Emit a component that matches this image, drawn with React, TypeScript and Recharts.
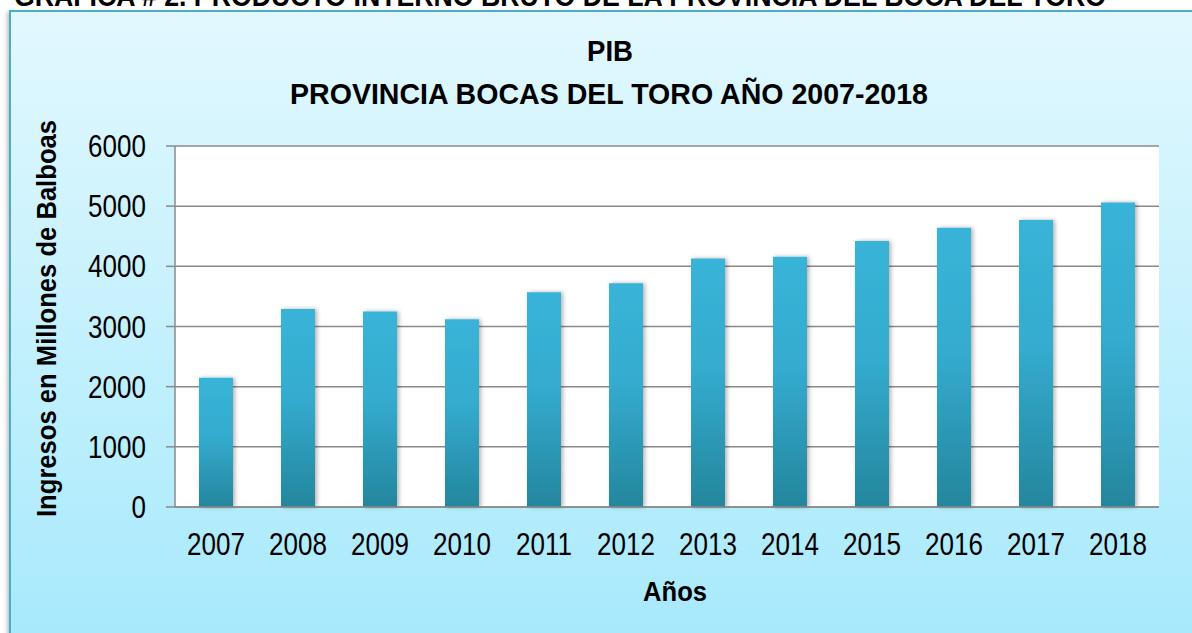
import { BarChart, Bar, XAxis, YAxis, CartesianGrid } from "recharts";

const years = ["2007", "2008", "2009", "2010", "2011", "2012", "2013", "2014", "2015", "2016", "2017", "2018"];
const pib = [2150, 3290, 3250, 3120, 3570, 3720, 4130, 4160, 4420, 4640, 4770, 5060];
const yTicks = [0, 1000, 2000, 3000, 4000, 5000, 6000];

const data = years.map((year, i) => ({ year, pib: pib[i] }));

const FONT = "'Liberation Sans Narrow', 'Arial Narrow', 'Liberation Sans', Arial, sans-serif";

// narrow-looking tick text (no Arial Narrow available, so squeeze it)
function NarrowTick({ x, y, payload, anchor, dy }: any) {
  return (
    <g transform={`translate(${x},${y})`}>
      <text transform="scale(0.84,1)" textAnchor={anchor} dy={dy} fontSize={31} fill="#000" fontFamily={FONT}>
        {payload.value}
      </text>
    </g>
  );
}

export default function App() {
  return (
    <div
      style={{
        position: "fixed",
        left: 0,
        top: 0,
        width: 1192,
        height: 633,
        overflow: "hidden",
        background: "#fff",
        fontFamily: FONT,
      }}
    >
      {/* caption cut off at the top of the page */}
      <svg width={1192} height={20} style={{ position: "absolute", left: 0, top: 0 }}>
        <text x={14} y={6} fontSize={30} fontWeight="bold" fontFamily={FONT} textLength={1092} lengthAdjust="spacingAndGlyphs">
          GRAFICA # 2. PRODUCTO INTERNO BRUTO DE LA PROVINCIA DEL BOCA DEL TORO
        </text>
      </svg>

      {/* chart area box */}
      <div
        style={{
          position: "absolute",
          left: 9,
          top: 10,
          width: 1200,
          height: 640,
          border: "2px solid #4aaec6",
          boxShadow: "-2px 2px 4px rgba(0,0,0,0.25)",
          background: "linear-gradient(to bottom, #e2f8fe 0%, #a6e9fc 100%)",
        }}
      />

      <svg width={1192} height={120} style={{ position: "absolute", left: 0, top: 0 }}>
        <text x={610} y={61} textAnchor="middle" fontSize={30} fontWeight="bold" fontFamily={FONT} textLength={46} lengthAdjust="spacingAndGlyphs">
          PIB
        </text>
        <text x={609} y={104} textAnchor="middle" fontSize={30} fontWeight="bold" fontFamily={FONT} textLength={638} lengthAdjust="spacingAndGlyphs">
          PROVINCIA BOCAS DEL TORO AÑO 2007-2018
        </text>
      </svg>

      <div style={{ position: "absolute", left: 0, top: 0 }}>
        <BarChart
          width={1192}
          height={633}
          data={data}
          margin={{ top: 146, right: 33, bottom: 66, left: 100 }}
          barSize={34}
        >
          <defs>
            <linearGradient id="barFill" x1="0" y1="0" x2="0" y2="1">
              <stop offset="0%" stopColor="#38b4d8" />
              <stop offset="45%" stopColor="#34abcf" />
              <stop offset="100%" stopColor="#24869d" />
            </linearGradient>
            <filter id="barShadow" x="-30%" y="-5%" width="160%" height="110%">
              <feDropShadow dx="2" dy="0" stdDeviation="2" floodColor="#000" floodOpacity="0.3" />
            </filter>
          </defs>
          <CartesianGrid vertical={false} fill="#ffffff" stroke="#8a8a8a" strokeWidth={1.5} />
          <XAxis
            dataKey="year"
            axisLine={{ stroke: "#8a8a8a", strokeWidth: 1.5 }}
            tickLine={false}
            tick={<NarrowTick anchor="middle" dy="0.71em" />}
            tickMargin={20}
            height={60}
            interval={0}
            label={{
              content: ({ viewBox }: any) => (
                <text
                  x={viewBox.x + viewBox.width / 2 + 8}
                  y={viewBox.y + 94}
                  textAnchor="middle"
                  fontSize={28}
                  fontWeight="bold"
                  fontFamily={FONT}
                  fill="#000"
                  textLength={64}
                  lengthAdjust="spacingAndGlyphs"
                >
                  Años
                </text>
              ),
            }}
          />
          <YAxis
            domain={[0, 6000]}
            ticks={yTicks}
            width={75}
            axisLine={{ stroke: "#8a8a8a", strokeWidth: 1.5 }}
            tickLine={{ stroke: "#8a8a8a", strokeWidth: 1.5 }}
            tickSize={9}
            tickMargin={20}
            tick={<NarrowTick anchor="end" dy="0.355em" />}
            label={{
              content: ({ viewBox }: any) => {
                const cx = viewBox.x - 54;
                const cy = viewBox.y + viewBox.height / 2 - 8;
                return (
                  <text
                    x={cx}
                    y={cy}
                    transform={`rotate(-90 ${cx} ${cy})`}
                    textAnchor="middle"
                    dominantBaseline="central"
                    fontSize={28}
                    fontWeight="bold"
                    fontFamily={FONT}
                    fill="#000"
                    textLength={397}
                    lengthAdjust="spacingAndGlyphs"
                  >
                    Ingresos en Millones de Balboas
                  </text>
                );
              },
            }}
          />
          <Bar dataKey="pib" fill="url(#barFill)" filter="url(#barShadow)" isAnimationActive={false} />
        </BarChart>
      </div>
    </div>
  );
}
